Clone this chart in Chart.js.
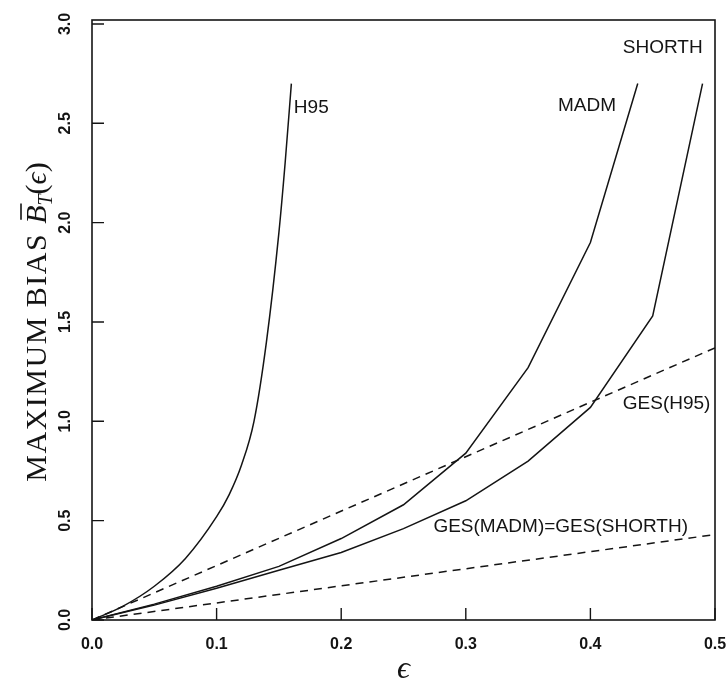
<!DOCTYPE html>
<html>
<head>
<meta charset="utf-8">
<script src="https://cdn.jsdelivr.net/npm/chart.js@4/dist/chart.umd.min.js"></script>
<style>
  html, body { margin: 0; padding: 0; background: #fff; }
  canvas { display: block; }
</style>
</head>
<body>
<canvas id="chart" width="726" height="686"></canvas>
<script>
// ---- Data ----
const h95Eps    = [0, 0.025, 0.05, 0.075, 0.1, 0.11, 0.12, 0.13, 0.14, 0.15, 0.155, 0.16];
const h95Bias   = [0, 0.07, 0.17, 0.31, 0.52, 0.63, 0.78, 1.0, 1.4, 1.95, 2.3, 2.7];
const madmEps   = [0, 0.05, 0.1, 0.15, 0.2, 0.25, 0.3, 0.35, 0.4, 0.438];
const madmBias  = [0, 0.08, 0.17, 0.27, 0.41, 0.58, 0.84, 1.27, 1.9, 2.7];
const shorthEps = [0, 0.05, 0.1, 0.15, 0.2, 0.25, 0.3, 0.35, 0.4, 0.45, 0.49];
const shorthBias= [0, 0.075, 0.16, 0.25, 0.34, 0.46, 0.6, 0.8, 1.07, 1.53, 2.7];
const gesEps    = [0, 0.5];
const gesH95    = [0, 1.37];
const gesMadm   = [0, 0.43];
const xTicks = [0, 0.1, 0.2, 0.3, 0.4, 0.5];
const yTicks = [0, 0.5, 1.0, 1.5, 2.0, 2.5, 3.0];

// curve labels, in data units (eps, bias)
const curveLabels = [
  { text: 'H95', x: 0.162, y: 2.58 },
  { text: 'MADM', x: 0.374, y: 2.59 },
  { text: 'SHORTH', x: 0.426, y: 2.88 },
  { text: 'GES(H95)', x: 0.426, y: 1.09 },
  { text: 'GES(MADM)=GES(SHORTH)', x: 0.274, y: 0.468 },
];

const INK = '#141414';
const SANS = '"Liberation Sans", Arial, sans-serif';
const SERIF = '"Liberation Serif", "Times New Roman", serif';

function pts(xs, ys) { return xs.map((x, i) => ({ x, y: ys[i] })); }

function line(data, dashed, smooth) {
  return {
    data,
    borderColor: INK,
    borderWidth: 1.5,
    borderDash: dashed ? [8, 6] : [],
    pointRadius: 0,
    fill: false,
    tension: 0,
    cubicInterpolationMode: smooth ? 'monotone' : 'default',
  };
}

// ---- Frame, inward ticks, labels, titles ----
const framePlugin = {
  id: 'frame',
  afterDraw(chart) {
    const { ctx, chartArea: a, scales: { x, y } } = chart;
    ctx.save();
    ctx.strokeStyle = INK;
    ctx.lineWidth = 1.6;
    ctx.strokeRect(a.left, a.top, a.right - a.left, a.bottom - a.top);

    ctx.lineWidth = 1.4;
    ctx.beginPath();
    xTicks.forEach(v => {
      const px = x.getPixelForValue(v);
      ctx.moveTo(px, a.bottom);
      ctx.lineTo(px, a.bottom - 12);
    });
    yTicks.forEach(v => {
      const py = y.getPixelForValue(v);
      ctx.moveTo(a.left, py);
      ctx.lineTo(a.left + 12, py);
    });
    ctx.stroke();

    // curve labels
    ctx.fillStyle = INK;
    ctx.font = '19px ' + SANS;
    ctx.textAlign = 'left';
    ctx.textBaseline = 'middle';
    curveLabels.forEach(l => {
      ctx.fillText(l.text, x.getPixelForValue(l.x), y.getPixelForValue(l.y));
    });

    // x title
    ctx.font = 'italic 32px ' + SERIF;
    ctx.textAlign = 'center';
    ctx.textBaseline = 'middle';
    ctx.fillText('ϵ', x.getPixelForValue(0.25), 670);

    // y title: MAXIMUM BIAS B̄_T(ϵ)
    const main = '30px ' + SERIF, ital = 'italic 30px ' + SERIF, sub = 'italic 20px ' + SERIF;
    const parts = [
      { t: 'MAXIMUM BIAS ', f: main, dy: 0, ls: '1.5px' },
      { t: 'B', f: ital, dy: 0, bar: true },
      { t: 'T', f: sub, dy: 6 },
      { t: '(', f: main, dy: 0 },
      { t: 'ϵ', f: ital, dy: 0 },
      { t: ')', f: main, dy: 0 },
    ];
    let total = 0;
    parts.forEach(p => {
      ctx.font = p.f;
      ctx.letterSpacing = p.ls || '0px';
      p.w = ctx.measureText(p.t).width;
      total += p.w;
    });
    ctx.translate(46, 322);
    ctx.rotate(-Math.PI / 2);
    ctx.textAlign = 'left';
    ctx.textBaseline = 'alphabetic';
    let cx = -total / 2;
    parts.forEach(p => {
      ctx.font = p.f;
      ctx.letterSpacing = p.ls || '0px';
      ctx.fillText(p.t, cx, p.dy);
      if (p.bar) {
        ctx.lineWidth = 1.6;
        ctx.beginPath();
        ctx.moveTo(cx + 4, -25);
        ctx.lineTo(cx + p.w + 2, -25);
        ctx.stroke();
      }
      cx += p.w;
    });
    ctx.restore();
  }
};

new Chart(document.getElementById('chart'), {
  type: 'line',
  data: {
    datasets: [
      line(pts(h95Eps, h95Bias), false, true),
      line(pts(madmEps, madmBias), false, false),
      line(pts(shorthEps, shorthBias), false, false),
      line(pts(gesEps, gesH95), true, false),
      line(pts(gesEps, gesMadm), true, false),
    ]
  },
  options: {
    responsive: false,
    animation: false,
    devicePixelRatio: 1,
    layout: { padding: { top: 20, right: 11, left: 0, bottom: 0 } },
    plugins: { legend: { display: false }, tooltip: { enabled: false } },
    scales: {
      x: {
        type: 'linear',
        min: 0, max: 0.5,
        afterBuildTicks: s => { s.ticks = xTicks.map(v => ({ value: v })); },
        afterFit: s => { s.height = 66; s.paddingLeft = 0; s.paddingRight = 0; },
        grid: { display: false, drawTicks: false },
        border: { display: false },
        ticks: {
          padding: 15,
          color: INK,
          font: { family: SANS, size: 16, weight: 'bold' },
          callback: v => v.toFixed(1),
        },
      },
      y: {
        type: 'linear',
        min: 0, max: 3.02,
        afterBuildTicks: s => { s.ticks = yTicks.map(v => ({ value: v })); },
        afterFit: s => { s.width = 92; s.paddingTop = 0; s.paddingBottom = 0; },
        grid: { display: false, drawTicks: false },
        border: { display: false },
        ticks: {
          padding: 15,
          minRotation: 90,
          maxRotation: 90,
          crossAlign: 'center',
          color: INK,
          font: { family: SANS, size: 16, weight: 'bold' },
          callback: v => v.toFixed(1),
        },
      },
    },
  },
  plugins: [framePlugin],
});
</script>
</body>
</html>
